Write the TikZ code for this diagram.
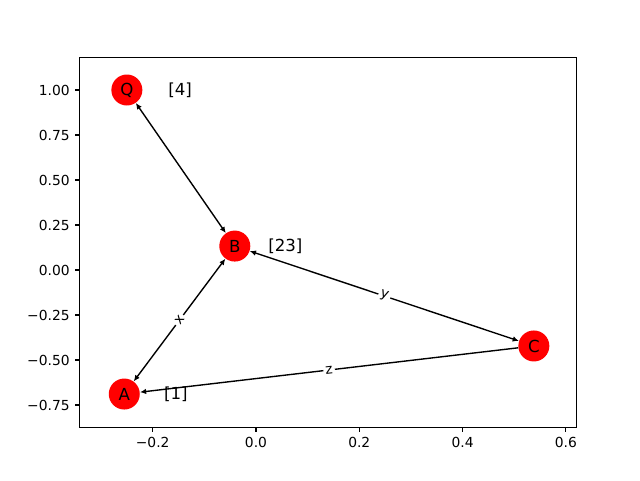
\documentclass[tikz,border=0pt]{standalone}
\usepackage{fontspec}
\setmainfont{DejaVu Sans}
\usetikzlibrary{arrows.meta}

\begin{document}
\begin{tikzpicture}[
    x=5.165in, y=1.8in,
    >={Latex[length=4.5pt,width=4pt]},
    vertex/.style={
        circle,
        fill=red,
        inner sep=0pt,
        minimum size=0.31in,
        font=\fontsize{12}{14}\selectfont
    },
    attr/.style={
        font=\fontsize{12}{14}\selectfont
    },
    link/.style={
        line width=1pt,
        draw=black
    },
    tag/.style={
        sloped,
        fill=white,
        inner sep=1.5pt,
        font=\fontsize{10}{12}\selectfont
    },
    axis/.style={
        line width=0.8pt
    },
    ticklabel/.style={
        inner sep=0pt,
        font=\fontsize{10}{12}\selectfont
    }
]
\useasboundingbox (-0.4956,-1.1667) rectangle (0.7435,1.5);

% Axes frame and ticks
\draw[axis] (-0.341,-0.873) rectangle (0.620,1.18);
\foreach \v/\t in {-0.2/−0.2, 0/0.0, 0.2/0.2, 0.4/0.4, 0.6/0.6}
    \draw[axis] (\v,-0.873) -- ++(0,-3.5pt) node[ticklabel, below=3.5pt] {\t};
\foreach \v/\t in {1/1.00, 0.75/0.75, 0.5/0.50, 0.25/0.25, 0/0.00, -0.25/−0.25, -0.5/−0.50, -0.75/−0.75}
    \draw[axis] (-0.341,\v) -- ++(-3.5pt,0) node[ticklabel, left=3.5pt] {\t};

% Nodes
\node[vertex] (q) at (-0.250,1.0) {Q};
\node[vertex] (b) at (-0.041,0.133) {B};
\node[vertex] (c) at (0.538,-0.422) {C};
\node[vertex] (a) at (-0.255,-0.689) {A};

% Node attributes
\node[attr] (qattr) at (-0.147,1.0) {[4]};
\node[attr] (battr) at (0.057,0.133) {[23]};
\node[attr] (aattr) at (-0.155,-0.689) {[1]};

% Connections
\draw[link, <->] (q) -- (b);
\draw[link, <->] (a) -- node[tag] {x} (b);
\draw[link, <->] (b) -- node[tag] {y} (c);
\draw[link, ->] (c) -- node[tag] {z} (a);

\end{tikzpicture}
\end{document}
